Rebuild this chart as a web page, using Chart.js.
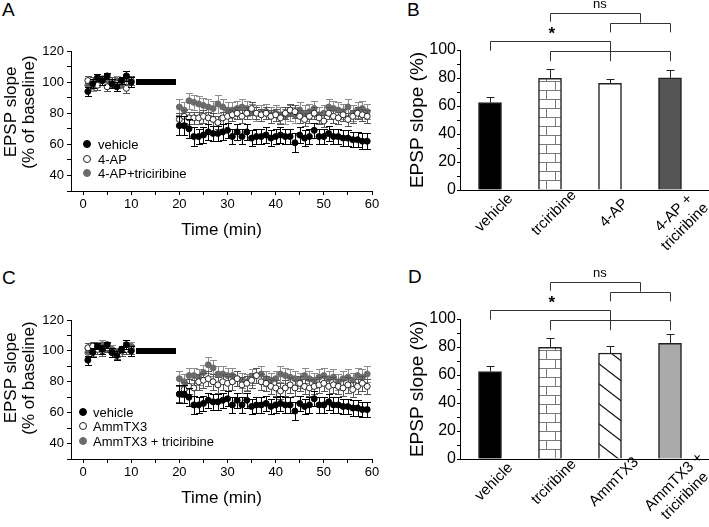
<!DOCTYPE html>
<html>
<head>
<meta charset="utf-8">
<script src="https://cdn.jsdelivr.net/npm/chart.js@4.4.1/dist/chart.umd.min.js"></script>
<style>
  body { margin: 0; background: #fff; width: 709px; height: 527px; position: relative; overflow: hidden;
         font-family: "Liberation Sans", Arial, sans-serif; }
  canvas { position: absolute; }
  .tag { position: absolute; font-size: 19px; line-height: 19px; color: #000; }
</style>
</head>
<body>
<div class="tag" style="left:2px;top:0">A</div>
<div class="tag" style="left:407px;top:0">B</div>
<div class="tag" style="left:2px;top:268px">C</div>
<div class="tag" style="left:408px;top:267px">D</div>
<canvas id="chartA" width="382" height="245" style="left:0;top:0"></canvas>
<canvas id="chartC" width="382" height="253" style="left:0;top:260px"></canvas>
<canvas id="chartB" width="349" height="260" style="left:360px;top:0"></canvas>
<canvas id="chartD" width="349" height="267" style="left:360px;top:260px"></canvas>
<script>
// time course (min): baseline then after application
const times = [1, 2, 3, 4, 5, 6, 7, 8, 9, 10,
  20, 21, 22, 23, 24, 25, 26, 27, 28, 29, 30, 31, 32, 33, 34, 35, 36, 37, 38, 39,
  40, 41, 42, 43, 44, 45, 46, 47, 48, 49, 50, 51, 52, 53, 54, 55, 56, 57, 58, 59];
const drugTimes = [11, 19.3];
const drugLevel = 100;

const vehicle = [94, 99, 103, 101, 104, 99, 97, 101, 104, 100,
  72, 72, 70, 65, 65, 66, 68, 67, 67, 68, 69, 65, 68, 65, 68, 64, 65, 65, 66, 64,
  65, 66, 65, 65, 61, 66, 64, 65, 69, 65, 65, 67, 65, 65, 64, 64, 63, 63, 62, 62];
const vehicleErr = [3, 3, 2, 3, 2, 3, 3, 2, 3, 3,
  6, 6, 6, 6, 5, 5, 5, 5, 5, 5, 5, 5, 5, 5, 5, 5, 5, 5, 5, 5,
  5, 5, 5, 5, 6, 5, 5, 5, 5, 5, 5, 5, 5, 5, 5, 5, 5, 5, 5, 5];

const ap = [101, 100, 98, 102, 97, 100, 99, 100, 96, 101,
  76, 78, 77, 77, 77, 78, 77, 76, 74, 77, 78, 79, 80, 78, 80, 83, 80, 79, 80, 78,
  79, 77, 80, 82, 81, 78, 76, 78, 80, 77, 75, 80, 78, 77, 79, 76, 78, 80, 79, 78];
const apErr = [3, 3, 3, 2, 3, 3, 3, 3, 3, 3,
  4, 4, 4, 4, 4, 4, 4, 4, 4, 4, 4, 4, 4, 4, 4, 4, 4, 4, 4, 4,
  4, 4, 4, 4, 4, 4, 4, 4, 4, 4, 4, 4, 4, 4, 4, 4, 4, 4, 4, 4];

const apTric = [98, 97, 100, 101, 102, 100, 101, 99, 102, 100,
  84, 82, 88, 87, 86, 85, 84, 83, 86, 84, 82, 82, 83, 84, 83, 81, 80, 80, 81, 79,
  80, 79, 78, 80, 79, 82, 80, 81, 83, 79, 80, 84, 83, 82, 81, 84, 80, 82, 83, 81];
const apTricErr = [3, 3, 3, 3, 3, 3, 3, 3, 3, 3,
  5, 5, 5, 5, 5, 5, 5, 5, 6, 5, 5, 5, 5, 5, 5, 5, 5, 5, 5, 5,
  5, 5, 5, 5, 5, 5, 5, 5, 5, 5, 5, 5, 5, 5, 5, 5, 5, 5, 5, 5];

const amm = [102, 103, 101, 100, 102, 99, 98, 100, 101, 101,
  72, 75, 77, 76, 80, 81, 82, 80, 78, 80, 79, 80, 82, 78, 79, 81, 84, 80, 79, 77,
  76, 74, 76, 78, 76, 79, 77, 76, 77, 78, 79, 77, 78, 77, 76, 78, 75, 77, 79, 77];
const ammErr = [3, 3, 3, 3, 3, 3, 3, 3, 3, 3,
  5, 5, 5, 5, 5, 5, 5, 5, 5, 5, 5, 5, 5, 5, 5, 5, 5, 5, 5, 5,
  5, 5, 5, 5, 5, 5, 5, 5, 5, 5, 5, 5, 5, 5, 5, 5, 5, 5, 5, 5];

const ammTric = [99, 100, 103, 104, 103, 101, 99, 100, 102, 103,
  82, 80, 84, 84, 83, 86, 91, 89, 85, 85, 84, 84, 82, 81, 80, 83, 84, 85, 82, 81,
  82, 85, 84, 83, 82, 81, 84, 82, 81, 83, 84, 82, 83, 80, 82, 83, 81, 84, 83, 85];
const ammTricErr = [3, 3, 3, 3, 3, 3, 3, 3, 4, 3,
  5, 5, 5, 5, 5, 5, 5, 5, 5, 5, 5, 5, 5, 5, 5, 5, 5, 5, 5, 5,
  5, 5, 5, 5, 5, 5, 5, 5, 5, 5, 5, 5, 5, 5, 5, 5, 5, 5, 5, 5];

// bar summaries
const catsB = ['vehicle', 'trciribine', '4-AP', ['4-AP +', 'triciribine']];
const meansB = [62.4, 79.8, 76.2, 80.2];
const semB = [4.2, 6.6, 2.8, 5.5];
const catsD = ['vehicle', 'trciribine', 'AmmTX3', ['AmmTX3 +', 'triciribine']];
const meansD = [62.4, 79.8, 75.7, 82.6];
const semD = [4.3, 6.6, 5.3, 6.4];

// significance brackets, in bar-index / % units
const sigBrackets = [
  { a: 0, b: 2, y: 106.7, ya: 99.5, yb: 92 },
  { a: 1, b: 3, y: 99.3, ya: 92, yb: 92 },
  { a: 1, b: 2.5, y: 126.7, ya: 120.2, yb: 119.5 },
  { a: 2, b: 3, y: 119.5, ya: 112.6, yb: 112.6 },
];
const sigLabels = [
  { x: 1.03, y: 111.5, text: '*' },
  { x: 1.83, y: 132.5, text: 'ns' },
];

const FONT = '"Liberation Sans", Arial, sans-serif';
Chart.defaults.font.family = FONT;
Chart.defaults.color = '#000';

// error bars, drawn just before (points) or after (bars) each dataset
function drawErrors(chart, meta, ds) {
  const ctx = chart.ctx;
  const y = chart.scales.y;
  const cap = ds.capHalf || 3.5;
  ctx.save();
  ctx.strokeStyle = ds.errorColor || '#000';
  ctx.lineWidth = 1;
  meta.data.forEach((el, i) => {
    const v = ds.data[i].y;
    const e = ds.errors[i];
    const top = Math.round(y.getPixelForValue(v + e)) + 0.5;
    const bot = ds.errorUpOnly ? el.y : Math.round(y.getPixelForValue(v - e)) + 0.5;
    const x = Math.round(el.x) + 0.5;
    ctx.beginPath();
    ctx.moveTo(x, top); ctx.lineTo(x, bot);
    ctx.moveTo(x - cap, top); ctx.lineTo(x + cap, top);
    if (!ds.errorUpOnly) { ctx.moveTo(x - cap, bot); ctx.lineTo(x + cap, bot); }
    ctx.stroke();
  });
  ctx.restore();
}

const errorBars = {
  id: 'errorBars',
  beforeDatasetDraw(chart, args) {
    const ds = chart.data.datasets[args.index];
    if (ds.errors && !ds.errorUpOnly) drawErrors(chart, args.meta, ds);
  },
  afterDatasetDraw(chart, args) {
    const ds = chart.data.datasets[args.index];
    if (ds.errors && ds.errorUpOnly) drawErrors(chart, args.meta, ds);
  },
};

const insetLegend = {
  id: 'insetLegend',
  afterDraw(chart, args, opts) {
    if (!opts.rows) return;
    const ctx = chart.ctx;
    ctx.save();
    ctx.font = '13px ' + FONT;
    ctx.textBaseline = 'middle';
    chart.data.datasets.filter(d => d.legendLabel).forEach((d, i) => {
      const y = opts.rows[i];
      ctx.beginPath();
      ctx.arc(opts.markerX, y, 3.5, 0, Math.PI * 2);
      ctx.fillStyle = d.pointBackgroundColor;
      ctx.fill();
      ctx.strokeStyle = d.pointBorderColor;
      ctx.lineWidth = 1;
      ctx.stroke();
      ctx.fillStyle = '#000';
      ctx.fillText(d.legendLabel, opts.textX, y + 1);
    });
    ctx.restore();
  },
};

const sideTitle = {
  id: 'sideTitle',
  afterDraw(chart, args, opts) {
    if (!opts.lines) return;
    const ctx = chart.ctx;
    ctx.save();
    ctx.font = opts.size + 'px ' + FONT;
    ctx.fillStyle = '#000';
    ctx.textAlign = 'center';
    ctx.textBaseline = 'middle';
    ctx.translate(opts.x, opts.y);
    ctx.rotate(-Math.PI / 2);
    opts.lines.forEach((t, i) => ctx.fillText(t, 0, i * opts.gap));
    ctx.restore();
  },
};

// category names under the bars, slanted 45 degrees and centred on the bar
const slantLabels = {
  id: 'slantLabels',
  afterDraw(chart, args, opts) {
    if (!opts.cats) return;
    const { ctx, scales: { x }, chartArea } = chart;
    ctx.save();
    ctx.font = '15px ' + FONT;
    ctx.fillStyle = '#000';
    ctx.textAlign = 'center';
    ctx.textBaseline = 'middle';
    opts.cats.forEach((c, i) => {
      const lines = Array.isArray(c) ? c : [c];
      const px = x.getPixelForValue(i);
      lines.forEach((t, j) => {
        ctx.save();
        ctx.translate(px + 4 + j * 11, chartArea.bottom + 23 + j * 14);
        ctx.rotate(-Math.PI / 4);
        ctx.fillText(t, 0, 0);
        ctx.restore();
      });
    });
    ctx.restore();
  },
};

const sigMarks = {
  id: 'sigMarks',
  afterDraw(chart, args, opts) {
    if (!opts.brackets) return;
    const { ctx, scales: { x, y } } = chart;
    ctx.save();
    ctx.strokeStyle = '#333';
    ctx.lineWidth = 1;
    opts.brackets.forEach(b => {
      const xa = Math.round(x.getPixelForValue(b.a)) + 0.5;
      const xb = Math.round(x.getPixelForValue(b.b)) + 0.5;
      const yy = Math.round(y.getPixelForValue(b.y)) + 0.5;
      ctx.beginPath();
      ctx.moveTo(xa, y.getPixelForValue(b.ya));
      ctx.lineTo(xa, yy);
      ctx.lineTo(xb, yy);
      ctx.lineTo(xb, y.getPixelForValue(b.yb));
      ctx.stroke();
    });
    ctx.fillStyle = '#000';
    ctx.textAlign = 'center';
    ctx.textBaseline = 'middle';
    opts.labels.forEach(l => {
      ctx.font = (l.text === '*' ? 'bold 17px ' : '13px ') + FONT;
      ctx.fillText(l.text, x.getPixelForValue(l.x), y.getPixelForValue(l.y));
    });
    ctx.restore();
  },
};

Chart.register(errorBars, insetLegend, sideTitle, slantLabels, sigMarks);

function brickPattern() {
  const c = document.createElement('canvas');
  c.width = 18; c.height = 18;
  const g = c.getContext('2d');
  g.fillStyle = '#fff'; g.fillRect(0, 0, 18, 18);
  g.strokeStyle = '#7a7a7a'; g.lineWidth = 1;
  g.beginPath();
  g.moveTo(0, 0.5); g.lineTo(18, 0.5);
  g.moveTo(0, 9.5); g.lineTo(18, 9.5);
  g.moveTo(6.5, 0); g.lineTo(6.5, 9);
  g.moveTo(15.5, 9); g.lineTo(15.5, 18);
  g.stroke();
  return g.createPattern(c, 'repeat');
}

function hatchPattern() {
  const c = document.createElement('canvas');
  c.width = 26; c.height = 20;
  const g = c.getContext('2d');
  g.fillStyle = '#fff'; g.fillRect(0, 0, 26, 20);
  g.strokeStyle = '#111'; g.lineWidth = 1.2;
  g.beginPath();
  [-20, 0, 20].forEach(off => { g.moveTo(-1, off - 0.77); g.lineTo(27, off + 20.77); });
  g.stroke();
  return g.createPattern(c, 'repeat');
}

function pts(ys) { return times.map((t, i) => ({ x: t, y: ys[i] })); }

function timeChart(id, series, opt) {
  const [v, w, g] = series;
  return new Chart(document.getElementById(id), {
    type: 'scatter',
    data: {
      datasets: [
        { type: 'line', data: drugTimes.map(t => ({ x: t, y: drugLevel })), borderColor: '#000',
          borderWidth: 6, borderCapStyle: 'butt', pointRadius: 0, order: 0 },
        { legendLabel: v.label, data: pts(v.y), errors: v.err, errorColor: '#000',
          pointBackgroundColor: '#000', pointBorderColor: '#000', pointRadius: 3, pointBorderWidth: 1, order: 1 },
        { legendLabel: w.label, data: pts(w.y), errors: w.err, errorColor: '#555',
          pointBackgroundColor: '#fff', pointBorderColor: '#222', pointRadius: 3, pointBorderWidth: 1, order: 2 },
        { legendLabel: g.label, data: pts(g.y), errors: g.err, errorColor: '#8c8c8c',
          pointBackgroundColor: '#6b6b6b', pointBorderColor: '#6b6b6b', pointRadius: 3, pointBorderWidth: 1, order: 3 },
      ],
    },
    options: {
      responsive: false,
      animation: false,
      events: [],
      layout: { padding: { top: opt.top, left: 0, right: 10, bottom: 0 } },
      plugins: {
        legend: { display: false },
        tooltip: { enabled: false },
        insetLegend: { markerX: opt.markerX, textX: opt.textX, rows: opt.rows },
        sideTitle: { lines: ['EPSP slope', '(% of baseline)'], size: 17, gap: 18, x: 11, y: opt.titleY },
      },
      scales: {
        x: {
          type: 'linear', min: -2.5, max: 60,
          afterFit: s => { s.height = opt.xHeight; },
          afterBuildTicks: s => { s.ticks = [0, 5, 10, 15, 20, 25, 30, 35, 40, 45, 50, 55, 60].map(value => ({ value })); },
          ticks: { font: { size: 13 }, padding: 2, maxRotation: 0, autoSkip: false,
                   callback: val => (val % 10 === 0 ? val : '') },
          grid: { drawOnChartArea: false, tickLength: 4, color: '#000' },
          border: { color: '#000', width: 1 },
          title: { display: true, text: 'Time (min)', font: { size: 17 }, padding: { top: 0, bottom: 4 } },
        },
        y: {
          min: 30, max: 120,
          afterFit: s => { s.width = 71; },
          ticks: { stepSize: 10, font: { size: 13 }, padding: 3, autoSkip: false,
                   callback: val => (val % 20 === 0 ? val : '') },
          grid: { drawOnChartArea: false, tickLength: 4, color: '#000' },
          border: { color: '#000', width: 1 },
        },
      },
    },
  });
}

function barChart(id, cats, means, sems, fills, opt) {
  return new Chart(document.getElementById(id), {
    type: 'bar',
    data: {
      datasets: [{
        data: means.map((m, i) => ({ x: i, y: m })),
        backgroundColor: fills,
        borderColor: '#222',
        borderWidth: 1.5,
        barThickness: 23,
        errors: sems, errorUpOnly: true, errorColor: '#222', capHalf: 4,
      }],
    },
    options: {
      responsive: false,
      animation: false,
      events: [],
      layout: { padding: { top: opt.top, left: 44, right: 0, bottom: 0 } },
      plugins: {
        legend: { display: false },
        tooltip: { enabled: false },
        slantLabels: { cats },
        sigMarks: { brackets: sigBrackets, labels: sigLabels },
      },
      scales: {
        x: {
          type: 'linear', min: -0.5, max: 3.65, offset: false,
          afterFit: s => { s.height = opt.xHeight; },
          afterBuildTicks: s => { s.ticks = cats.map((c, i) => ({ value: i })); },
          ticks: { display: false },
          grid: { display: false, drawTicks: false, offset: false },
          border: { display: true, color: '#000', width: 1 },
        },
        y: {
          min: 0, max: 100,
          afterFit: s => { s.width = 56; },
          ticks: { stepSize: 10, font: { size: 16 }, padding: 1, autoSkip: false,
                   callback: val => (val % 20 === 0 ? val : '') },
          grid: { drawOnChartArea: false, tickLength: 3, color: '#000' },
          border: { color: '#000', width: 1 },
          title: { display: true, text: 'EPSP slope (%)', font: { size: 19 }, padding: { top: 2, bottom: 0 } },
        },
      },
    },
  });
}

timeChart('chartA', [
  { label: 'vehicle', y: vehicle, err: vehicleErr },
  { label: '4-AP', y: ap, err: apErr },
  { label: '4-AP+triciribine', y: apTric, err: apTricErr },
], { top: 51, xHeight: 54, titleY: 112, markerX: 87, textX: 98, rows: [144, 159, 173] });

timeChart('chartC', [
  { label: 'vehicle', y: vehicle, err: vehicleErr },
  { label: 'AmmTX3', y: amm, err: ammErr },
  { label: 'AmmTX3 + triciribine', y: ammTric, err: ammTricErr },
], { top: 60, xHeight: 54, titleY: 118, markerX: 83, textX: 93, rows: [152, 166, 181] });

barChart('chartB', catsB, meansB, semB, ['#000', brickPattern(), '#fff', '#555'], { top: 50, xHeight: 70 });
barChart('chartD', catsD, meansD, semD, ['#000', brickPattern(), hatchPattern(), '#aaa'], { top: 59, xHeight: 68 });
</script>
</body>
</html>
